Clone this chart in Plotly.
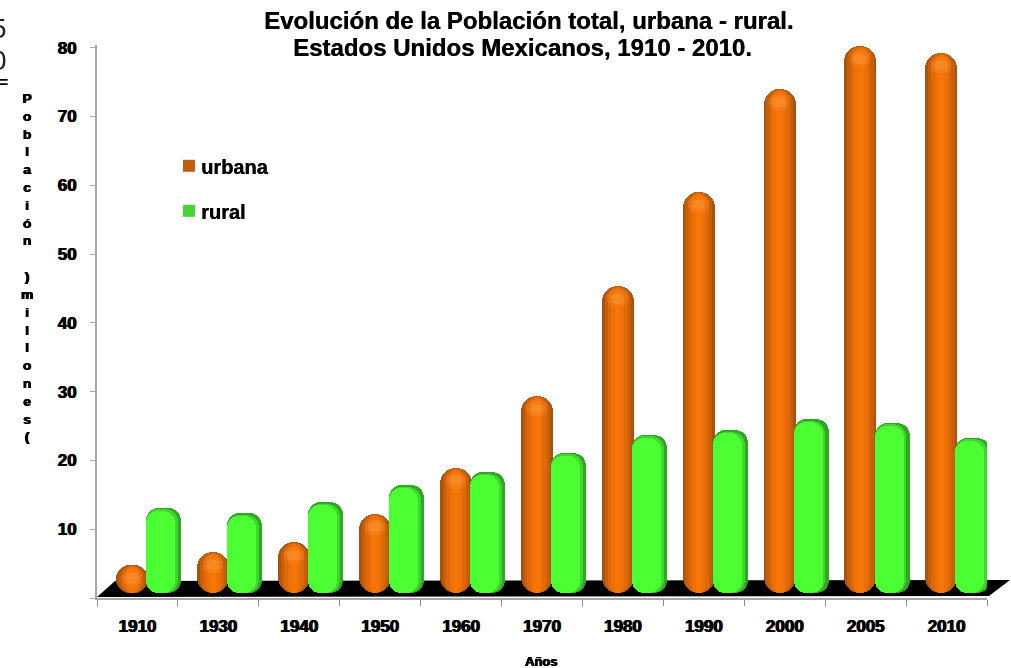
import plotly.graph_objects as go

years = ["1910", "1930", "1940", "1950", "1960", "1970", "1980", "1990", "2000", "2005", "2010"]
urbana = [4.8, 6.7, 8.1, 12.2, 18.9, 29.4, 45.4, 59.1, 74.0, 80.3, 79.3]
rural = [13.1, 12.3, 13.9, 16.4, 18.3, 21.1, 23.7, 24.4, 26.0, 25.5, 23.3]
y_ticks = [0, 10, 20, 30, 40, 50, 60, 70, 80]
y_labels = ["", "10", "20", "30", "40", "50", "60", "70", "80"]
y_letters = list("Población") + [" ", ")"] + list("millones") + ["("]

L, R, T, B = 97, 987, 45.25, 598
FLOOR = 0.7
FONT = "Liberation Sans, Arial, sans-serif"
THICK = "0.7px 0 0 #000, -0.5px 0 0 #000"


def px(x):
    return (x - L) / (R - L)


def py(y):
    return (B - y) / (B - T)


fig = go.Figure()


def layer(name, vals, left, width, color, radius, trim=0.0):
    fig.add_trace(go.Bar(
        x=years, y=[v - FLOOR - trim for v in vals], base=FLOOR, name=name,
        offset=left, width=width, marker=dict(color=color, cornerradius=radius, line_width=0),
        showlegend=False, hoverinfo="x+y", cliponaxis=False,
    ))


def glow(name, vals, left, width, color, radius, below, size, opacity):
    fig.add_trace(go.Bar(
        x=years, y=[size] * len(vals), base=[v - below for v in vals], name=name,
        offset=left, width=width, marker=dict(color=color, cornerradius=radius, line_width=0),
        opacity=opacity, showlegend=False, hoverinfo="skip", cliponaxis=False,
    ))


# urbana: rounded cylinder made of nested shades
U_L, U_W = -0.262, 0.396
u_shades = [("#a9530f", 0.0, 0.0), ("#c75f08", 0.035, 0.05), ("#df6808", 0.075, 0.15), ("#ef7008", 0.12, 0.3), ("#f47609", 0.16, 0.5)]
for col, inset, trim in u_shades:
    layer("urbana", urbana, U_L + inset, U_W - 2 * inset, col, 16 - inset * 80, trim=trim)
glow("urbana", urbana, U_L + 0.07, 0.25, "#f98c2a", 9, 3.0, 2.2, 0.35)
glow("urbana", urbana, U_L + 0.11, 0.17, "#fb9a3a", 6, 2.6, 1.4, 0.4)

# rural: flatter cap, darker side band on the right
G_L, G_W = 0.11, 0.433
g_shades = [("#2fa823", G_W, 0.0, 13), ("#3fd62e", G_W - 0.04, 0.2, 13), ("#4cff33", G_W - 0.075, 0.45, 12)]
for col, w, trim, rad in g_shades:
    layer("rural", rural, G_L, w, col, rad, trim=trim)


def note(text, x, y, size, weight=700, shadow=THICK, color="#000", anchor="center"):
    return dict(x=px(x), y=py(y), xref="paper", yref="paper", showarrow=False, text=text,
                xanchor=anchor, yanchor="middle", align="center",
                font=dict(family=FONT, size=size, color=color, weight=weight, shadow=shadow))


annotations = [
    note("Evolución de la Población total, urbana - rural.", 528, 21, 24, shadow="0.4px 0 0 #000"),
    note("Estados Unidos Mexicanos, 1910 - 2010.", 522, 48, 24, shadow="0.4px 0 0 #000"),
    note("<br>".join(y_letters), 27, 268, 13.7),
    note("Años", 541, 661, 13),
    note("urbana", 199, 167, 20, anchor="left", shadow="0.4px 0 0 #000"),
    note("rural", 199, 212, 20, anchor="left", shadow="0.4px 0 0 #000"),
    note("5", 9, 29, 28, weight=400, shadow="none", color="#222", anchor="right"),
    note("0", 9, 61, 28, weight=400, shadow="none", color="#222", anchor="right"),
    note("=", 10, 83, 16, shadow="none", anchor="right"),
]

fig.update_layout(
    width=1011, height=668, autosize=False,
    margin=dict(l=L, r=1011 - R, t=T, b=668 - B),
    paper_bgcolor="#fff", plot_bgcolor="#fff",
    barmode="overlay", bargap=0, showlegend=False,
    font=dict(family=FONT, color="#000"),
    xaxis=dict(type="category", categoryorder="array", categoryarray=years, range=[-0.5, 10.5],
               tickson="boundaries", ticks="outside", ticklen=6, tickwidth=1, tickcolor="#8c8c8c",
               showline=True, linecolor="#a6a6a6", linewidth=2, showgrid=False, zeroline=False,
               tickfont=dict(family=FONT, size=17, color="#000", weight=700, shadow=THICK), ticklabelstandoff=12),
    yaxis=dict(range=[0, 80.4], tickmode="array", tickvals=y_ticks, ticktext=y_labels,
               ticks="outside", ticklen=5, tickwidth=1, tickcolor="#a6a6a6",
               showline=True, linecolor="#a6a6a6", linewidth=2, showgrid=False, zeroline=False,
               tickfont=dict(family=FONT, size=17, color="#000", weight=700, shadow=THICK), ticklabelstandoff=10),
    annotations=annotations,
    shapes=[
        dict(type="path", xref="paper", yref="paper", layer="below", line_width=0, fillcolor="#000",
             path=f"M {px(97)} {py(597)} L {px(115)} {py(581)} L {px(1010)} {py(580)} L {px(989)} {py(596)} Z"),
        dict(type="rect", xref="paper", yref="paper", line_width=0, fillcolor="#c0600f",
             x0=px(183), x1=px(195), y0=py(172), y1=py(160)),
        dict(type="rect", xref="paper", yref="paper", line_width=0, fillcolor="#46d63a",
             x0=px(183), x1=px(195), y0=py(217), y1=py(205)),
    ],
)

fig.write_html("out.html", config={"displayModeBar": False}, post_script="document.body.style.margin='0';")
